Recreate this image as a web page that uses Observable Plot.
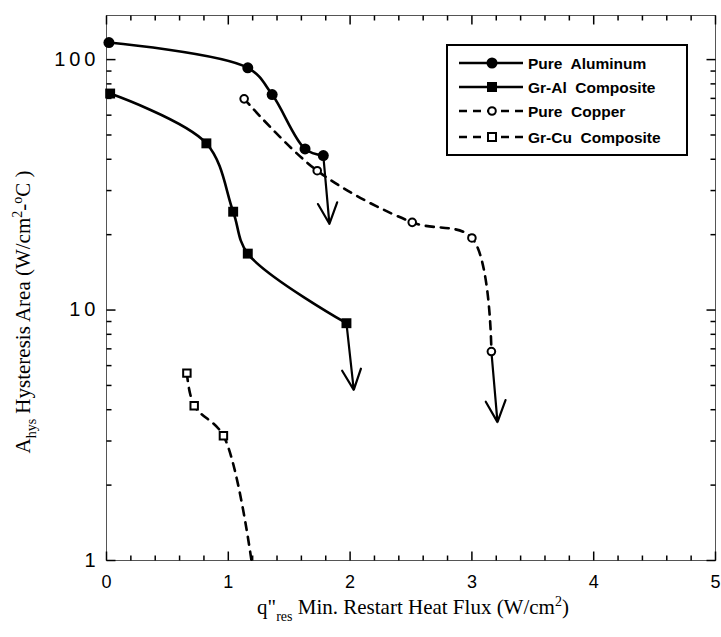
<!DOCTYPE html>
<html><head><meta charset="utf-8">
<script src="https://cdn.jsdelivr.net/npm/d3@7"></script>
<script src="https://cdn.jsdelivr.net/npm/@observablehq/plot@0.6"></script>
<style>
body{margin:0;background:#fff}
#chart{width:721px;height:637px}
g[aria-label="y-axis tick label"] text{letter-spacing:4px}
</style>
</head><body><div id="chart"></div>
<script>
// ---- data ----
const seriesNames = ["Pure  Aluminum", "Gr-Al  Composite", "Pure  Copper", "Gr-Cu  Composite"];
const alX = [0.02, 1.16, 1.36, 1.63, 1.78];
const alY = [117, 92.7, 72.5, 44, 41.4];
const gralX = [0.03, 0.82, 1.04, 1.16, 1.97];
const gralY = [73.2, 46.3, 24.7, 16.8, 8.86];
const cuX = [1.13, 1.73, 2.51, 3.00, 3.16];
const cuY = [69.7, 36, 22.4, 19.4, 6.83];
const grcuX = [0.66, 0.72, 0.96];
const grcuY = [5.6, 4.15, 3.15];
const grcuEnd = {x: 1.19, y: 1.0};          // dashed line runs on to the axis
const arrowFrom = [{x: 1.78, y: 41.4}, {x: 1.97, y: 8.86}, {x: 3.16, y: 6.83}];
const arrowTo   = [{x: 1.83, y: 22.1}, {x: 2.03, y: 4.8}, {x: 3.21, y: 3.57}];
const xMajor = [0, 1, 2, 3, 4, 5];
const yMajor = [1, 10, 100];
const xDomain = [0, 5];
const yDomain = [1, 150];

// ---- layout ----
const W = 721, H = 637, mL = 106, mR = 6, mT = 15, mB = 77;

// ---- build tables ----
const zip = (xs, ys) => xs.map((x, i) => ({x, y: ys[i]}));
const al = zip(alX, alY), gral = zip(gralX, gralY), cu = zip(cuX, cuY), grcu = zip(grcuX, grcuY);
const grcuLine = [...grcu, grcuEnd];
const arrows = arrowFrom.map((a, i) => ({x1: a.x, y1: a.y, x2: arrowTo[i].x, y2: arrowTo[i].y}));
const xMinor = d3.range(0, 50.5, 2).map(d => d / 10).filter(d => !xMajor.includes(d));
const yMinor = [2,3,4,5,6,7,8,9,20,30,40,50,60,70,80,90];

// inward tick segments expressed in scale units (tick length in px -> data units)
const innerW = W - mL - mR, innerH = H - mT - mB;
const yFac = px => Math.pow(yDomain[1] / yDomain[0], px / innerH);
const xLen = px => (xDomain[1] - xDomain[0]) * px / innerW;
const xTicks = [];
xMinor.forEach(v => xTicks.push({x: v, px: 5}));
xMajor.forEach(v => xTicks.push({x: v, px: 9}));
const yTicks = [];
yMinor.forEach(v => yTicks.push({y: v, px: 5}));
yMajor.forEach(v => yTicks.push({y: v, px: 9}));
const tickLinks = [
  ...xTicks.map(t => ({x1: t.x, x2: t.x, y1: yDomain[0], y2: yDomain[0] * yFac(t.px)})),
  ...xTicks.map(t => ({x1: t.x, x2: t.x, y1: yDomain[1], y2: yDomain[1] / yFac(t.px)})),
  ...yTicks.map(t => ({y1: t.y, y2: t.y, x1: xDomain[0], x2: xDomain[0] + xLen(t.px)})),
  ...yTicks.map(t => ({y1: t.y, y2: t.y, x1: xDomain[1], x2: xDomain[1] - xLen(t.px)}))
];

const plot = Plot.plot({
  width: W, height: H,
  marginLeft: mL, marginRight: mR, marginTop: mT, marginBottom: mB,
  style: {background: "white", color: "black", overflow: "visible", fontFamily: "'Liberation Sans', Arial, sans-serif"},
  x: {domain: xDomain, label: null},
  y: {type: "log", domain: yDomain, label: null},
  marks: [
    Plot.frame({stroke: "#555", strokeWidth: 1}),
    Plot.link(tickLinks, {x1: "x1", y1: "y1", x2: "x2", y2: "y2", stroke: "black", strokeWidth: 1.5, clip: false}),
    // tick labels
    Plot.axisX({ticks: xMajor, tickSize: 0, tickPadding: 15, tickFormat: d => String(d), label: null, fontSize: 18}),
    Plot.axisY({ticks: yMajor, tickSize: 0, tickPadding: 7, tickFormat: d => String(d), label: null, fontSize: 20}),
    // series
    Plot.line(al, {x: "x", y: "y", curve: "catmull-rom", stroke: "black", strokeWidth: 2.6}),
    Plot.line(gral, {x: "x", y: "y", curve: "catmull-rom", stroke: "black", strokeWidth: 2.6}),
    Plot.line(cu, {x: "x", y: "y", curve: "catmull-rom", stroke: "black", strokeWidth: 2.6, strokeDasharray: "8,7"}),
    Plot.line(grcuLine, {x: "x", y: "y", curve: "catmull-rom", stroke: "black", strokeWidth: 2.6, strokeDasharray: "8,7"}),
    Plot.arrow(arrows, {x1: "x1", y1: "y1", x2: "x2", y2: "y2", stroke: "black", strokeWidth: 2.2, headLength: 16, headAngle: 50, insetStart: 4}),
    Plot.dot(al, {x: "x", y: "y", symbol: "circle", r: 5.5, fill: "black"}),
    Plot.dot(gral, {x: "x", y: "y", symbol: "square", r: 5.6, fill: "black"}),
    Plot.dot(cu, {x: "x", y: "y", symbol: "circle", r: 3.8, fill: "white", stroke: "black", strokeWidth: 2}),
    Plot.dot(grcu, {x: "x", y: "y", symbol: "square", r: 4.2, fill: "white", stroke: "black", strokeWidth: 2})
  ]
});
document.getElementById("chart").appendChild(plot);

const svg = d3.select(plot);

// ---- axis titles with sub/superscripts ----
const serif = "'Liberation Serif', 'Times New Roman', serif";
const yt = svg.append("text")
  .attr("transform", "translate(30,312) rotate(-90)")
  .attr("text-anchor", "middle").attr("font-family", serif).attr("font-size", 21).attr("fill", "black");
yt.append("tspan").text("A");
yt.append("tspan").attr("dy", 6).attr("font-size", 14).text("hys");
yt.append("tspan").attr("dy", -6).text(" Hysteresis Area (W/cm");
yt.append("tspan").attr("dy", -8).attr("font-size", 14).text("2");
yt.append("tspan").attr("dy", 8).text("-");
yt.append("tspan").attr("dy", -8).attr("font-size", 14).text("o");
yt.append("tspan").attr("dy", 8).text("C )");

const xt = svg.append("text")
  .attr("transform", "translate(413,614)")
  .attr("text-anchor", "middle").attr("font-family", serif).attr("font-size", 21).attr("fill", "black");
xt.append("tspan").text("q\"");
xt.append("tspan").attr("dy", 7).attr("font-size", 14).text("res");
xt.append("tspan").attr("dy", -7).text(" Min. Restart Heat Flux (W/cm");
xt.append("tspan").attr("dy", -8).attr("font-size", 14).text("2");
xt.append("tspan").attr("dy", 8).text(")");

// ---- legend ----
const lg = svg.append("g").attr("font-family", "'Liberation Sans', Arial, sans-serif").attr("text-anchor", "start");
lg.append("rect").attr("x", 447).attr("y", 45).attr("width", 240).attr("height", 110)
  .attr("fill", "white").attr("stroke", "black").attr("stroke-width", 2);
const rowsY = [63, 87, 111, 137];
const styles = [
  {dash: null, sym: "circle", fill: "black", size: 5.5, sw: 0},
  {dash: null, sym: "square", fill: "black", size: 10, sw: 0},
  {dash: "8,6", sym: "circle", fill: "white", size: 3.8, sw: 2},
  {dash: "8,6", sym: "square", fill: "white", size: 8, sw: 2}
];
seriesNames.forEach((name, i) => {
  const y = rowsY[i], s = styles[i];
  const ln = lg.append("line").attr("x1", 459).attr("x2", 523).attr("y1", y).attr("y2", y)
    .attr("stroke", "black").attr("stroke-width", 2.6);
  if (s.dash) ln.attr("stroke-dasharray", s.dash);
  if (s.sym === "circle") {
    lg.append("circle").attr("cx", 492).attr("cy", y).attr("r", s.size)
      .attr("fill", s.fill).attr("stroke", "black").attr("stroke-width", s.sw);
  } else {
    lg.append("rect").attr("x", 492 - s.size / 2).attr("y", y - s.size / 2)
      .attr("width", s.size).attr("height", s.size)
      .attr("fill", s.fill).attr("stroke", "black").attr("stroke-width", s.sw);
  }
  lg.append("text").attr("x", 528).attr("y", y + 5.5).attr("font-size", 15.5).attr("font-weight", "bold")
    .attr("fill", "black").style("white-space", "pre").text(name);
});
</script>
</body></html>
